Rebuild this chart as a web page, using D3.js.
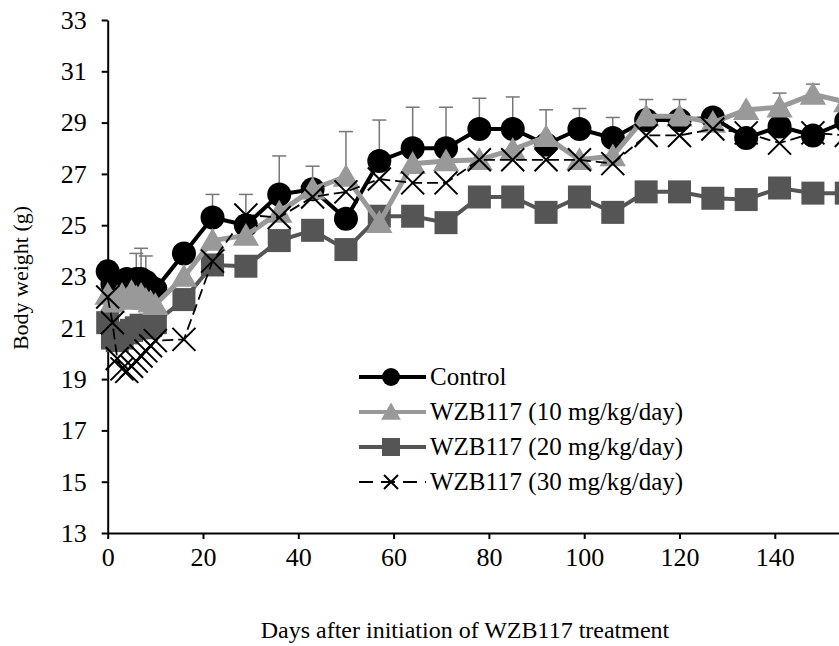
<!DOCTYPE html>
<html>
<head>
<meta charset="utf-8">
<script src="https://cdn.jsdelivr.net/npm/d3@7"></script>
<style>
body { margin: 0; background: #fff; }
text { font-family: "Liberation Serif", "Times New Roman", serif; fill: #000; }
</style>
</head>
<body>
<div id="chart"></div>
<script>
// measurement days
let days = [0, 1, 2, 3, 4, 5, 6, 7, 8, 9, 10, 16, 22, 29, 36, 43, 50, 57, 64, 71, 78, 85, 92, 99, 106, 113, 120, 127, 134, 141, 148, 155]

let control = [23.2, 22.7, 22.6, 22.8, 22.9, 22.7, 22.9, 22.9, 22.8, 22.6, 22.5, 23.9, 25.3, 25.0, 26.2, 26.4, 25.25, 27.5, 28.0, 28.0, 28.75, 28.75, 28.15, 28.75, 28.4, 29.1, 29.1, 29.2, 28.4, 28.85, 28.5, 29.05]
let controlErr = [0, 0, 0, 0, 0, 0, 1.0, 1.2, 1.0, 0, 0, 0, 0.9, 1.2, 1.5, 0, 0, 1.6, 1.6, 1.6, 1.2, 1.25, 0, 0.8, 0.8, 0, 0, 0, 0, 0, 0, 0]

let wzb10 = [22.3, 22.0, 22.2, 22.3, 22.1, 22.4, 22.2, 22.3, 22.1, 22.0, 21.9, 23.0, 24.4, 24.6, 25.5, 26.4, 26.9, 25.1, 27.4, 27.5, 27.55, 27.95, 28.45, 27.55, 27.7, 29.25, 29.25, 29.0, 29.5, 29.6, 30.1, 29.8]
let wzb10Err = [0, 0, 0, 0, 0, 0, 0, 0, 0, 0, 0, 0, 0, 0, 0, 0.9, 1.75, 0, 0, 0, 0, 0, 1.05, 0, 0, 0.65, 0.65, 0, 0, 0.55, 0.4, 0]

let wzb20 = [21.2, 20.6, 20.5, 20.6, 20.8, 20.9, 21.0, 21.1, 21.0, 21.1, 21.2, 22.1, 23.45, 23.4, 24.4, 24.8, 24.05, 25.35, 25.35, 25.1, 26.1, 26.1, 25.5, 26.1, 25.5, 26.3, 26.3, 26.05, 26.0, 26.45, 26.25, 26.25]
let wzb20Err = [0, 0, 0, 0, 0, 0, 0, 0, 0, 0, 0, 0, 0, 0, 0, 0, 0, 0, 0, 0.2, 0, 0, 0.2, 0, 0, 0, 0, 0.25, 0, 0.2, 0, 0]

let wzb30 = [22.2, 21.2, 19.8, 19.4, 19.3, 19.5, 19.7, 19.9, 20.1, 20.3, 20.5, 20.55, 23.6, 25.4, 25.3, 26.1, 26.3, 26.8, 26.65, 26.65, 27.55, 27.55, 27.55, 27.55, 27.4, 28.5, 28.5, 28.75, 28.6, 28.2, 28.6, 28.5]

let seriesNames = ['Control', 'WZB117 (10 mg/kg/day)', 'WZB117 (20 mg/kg/day)', 'WZB117 (30 mg/kg/day)']
let yTicks = [13, 15, 17, 19, 21, 23, 25, 27, 29, 31, 33]
let xTicks = [0, 20, 40, 60, 80, 100, 120, 140]

let width = 839
let height = 646
let margin = {top: 20, left: 107.7, bottom: 113}

let svg = d3.select('#chart').append('svg').attr('width', width).attr('height', height)

let x = d3.scaleLinear().domain([0, 160]).range([margin.left, margin.left + 160 * 4.765])
let y = d3.scaleLinear().domain([13, 33]).range([height - margin.bottom, margin.top])

// axes
let xAxis = d3.axisBottom(x).tickValues(xTicks).tickSize(6).tickPadding(9).tickSizeOuter(0)
let yAxis = d3.axisLeft(y).tickValues(yTicks).tickSize(6).tickPadding(15).tickSizeOuter(0)

let gx = svg.append('g').attr('transform', 'translate(0,' + y(13) + ')').call(xAxis)
let gy = svg.append('g').attr('transform', 'translate(' + x(0) + ',0)').call(yAxis)
;[gx, gy].forEach(g => {
    g.select('.domain').attr('stroke', '#000').attr('stroke-width', 2)
    g.selectAll('.tick line').attr('stroke', '#000').attr('stroke-width', 2)
    g.selectAll('.tick text').style('font-size', '26px').attr('fill', '#000')
})

svg.append('text').attr('x', 465).attr('y', 638).attr('text-anchor', 'middle').style('font-size', '24px')
    .text('Days after initiation of WZB117 treatment')
svg.append('text').attr('transform', 'translate(28,278) rotate(-90)').attr('text-anchor', 'middle').style('font-size', '22px')
    .text('Body weight (g)')

let line = d3.line().x(d => x(d[0])).y(d => y(d[1]))

function drawErrors(vals, errs, color) {
    let g = svg.append('g')
    days.forEach((d, i) => {
        if (errs[i] > 0) {
            g.append('line').attr('x1', x(d)).attr('x2', x(d)).attr('y1', y(vals[i])).attr('y2', y(vals[i] + errs[i]))
                .attr('stroke', color).attr('stroke-width', 1.5)
            g.append('line').attr('x1', x(d) - 7).attr('x2', x(d) + 7).attr('y1', y(vals[i] + errs[i])).attr('y2', y(vals[i] + errs[i]))
                .attr('stroke', color).attr('stroke-width', 1.5)
        }
    })
}

function marker(g, type, cx, cy, s) {
    if (type === 'circle') {
        g.append('circle').attr('cx', cx).attr('cy', cy).attr('r', s).attr('fill', '#000')
    } else if (type === 'triangle') {
        let h = s * 1.9
        g.append('path').attr('d', 'M' + cx + ',' + (cy - h * 0.55) + 'L' + (cx + s * 1.1) + ',' + (cy + h * 0.45) + 'L' + (cx - s * 1.1) + ',' + (cy + h * 0.45) + 'Z')
            .attr('fill', '#999')
    } else if (type === 'square') {
        g.append('rect').attr('x', cx - s).attr('y', cy - s).attr('width', 2 * s).attr('height', 2 * s).attr('fill', '#555')
    } else {
        g.append('path').attr('d', 'M' + (cx - s) + ',' + (cy - s) + 'L' + (cx + s) + ',' + (cy + s) + 'M' + (cx + s) + ',' + (cy - s) + 'L' + (cx - s) + ',' + (cy + s))
            .attr('stroke', '#000').attr('stroke-width', 2).attr('fill', 'none')
    }
}

let series = [
    {vals: wzb20, errs: wzb20Err, color: '#555', width: 4, dash: null, type: 'square', size: 11.5},
    {vals: control, errs: controlErr, color: '#000', width: 4, dash: null, type: 'circle', size: 12},
    {vals: wzb10, errs: wzb10Err, color: '#999', width: 5, dash: null, type: 'triangle', size: 12},
    {vals: wzb30, errs: null, color: '#000', width: 1.8, dash: '11,5', type: 'x', size: 11.5}
]

series.forEach(s => {
    if (s.errs) drawErrors(s.vals, s.errs, '#777')
    svg.append('path').datum(days.map((d, i) => [d, s.vals[i]])).attr('d', line)
        .attr('fill', 'none').attr('stroke', s.color).attr('stroke-width', s.width)
        .attr('stroke-dasharray', s.dash)
    let g = svg.append('g')
    days.forEach((d, i) => marker(g, s.type, x(d), y(s.vals[i]), s.size))
})

// legend
let legendStyle = [
    {color: '#000', width: 4, dash: null, type: 'circle', size: 9},
    {color: '#999', width: 4, dash: null, type: 'triangle', size: 9},
    {color: '#555', width: 4, dash: null, type: 'square', size: 9},
    {color: '#000', width: 1.8, dash: '14,8', type: 'x', size: 7}
]
let legend = svg.selectAll('.legend').data(seriesNames).enter().append('g').attr('class', 'legend')
    .attr('transform', (d, i) => 'translate(359,' + (377 + 35 * i) + ')')
legend.each(function (d, i) {
    let g = d3.select(this)
    let st = legendStyle[i]
    g.append('line').attr('x1', 0).attr('x2', 67).attr('y1', 0).attr('y2', 0)
        .attr('stroke', st.color).attr('stroke-width', st.width).attr('stroke-dasharray', st.dash)
    marker(g, st.type, 32, 0, st.size)
    g.append('text').attr('x', 71).attr('y', 8).style('font-size', '25px').text(d)
})
</script>
</body>
</html>
